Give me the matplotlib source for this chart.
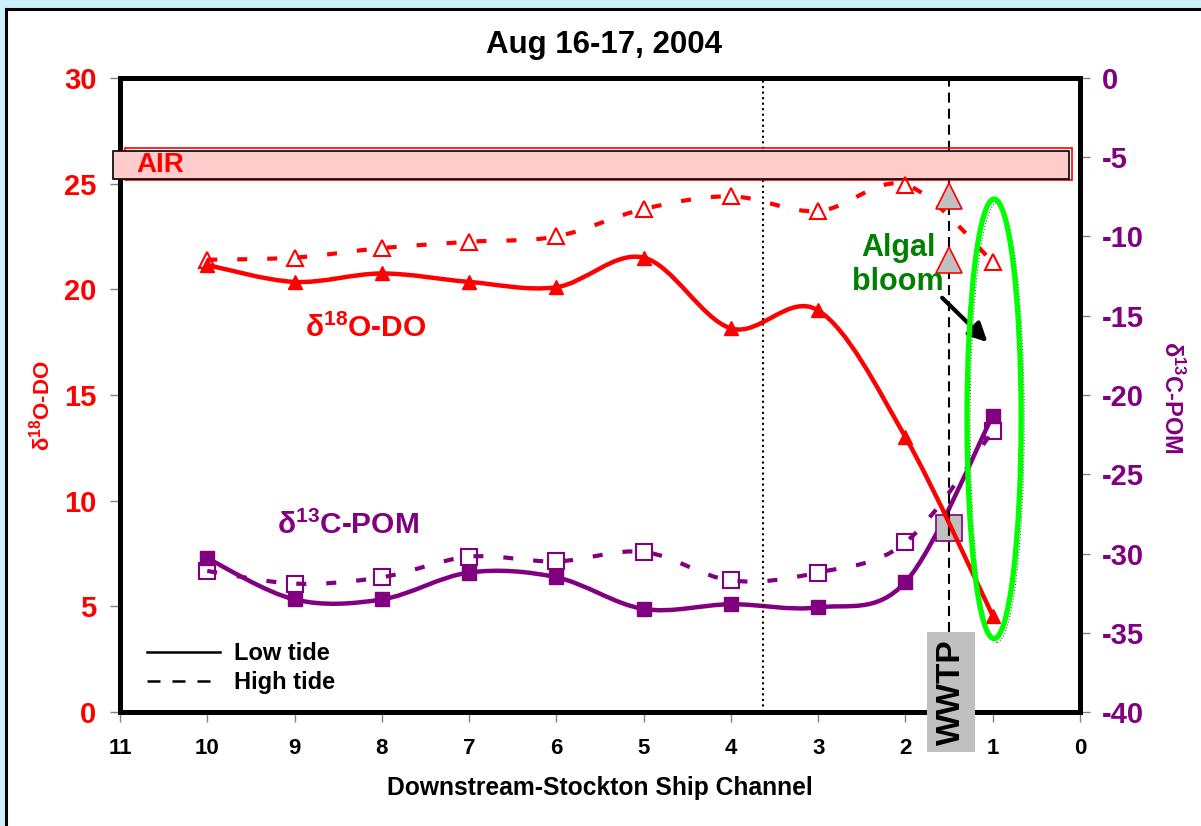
import numpy as np
import matplotlib
matplotlib.use('Agg')
import matplotlib.pyplot as plt
from matplotlib.path import Path
from matplotlib.patches import PathPatch, Rectangle, Ellipse
from matplotlib.lines import Line2D

plt.rcParams['font.family'] = ['Liberation Sans', 'DejaVu Sans']
plt.rcParams['font.weight'] = 'bold'
plt.rcParams['mathtext.fontset'] = 'custom'
plt.rcParams['mathtext.rm'] = 'Liberation Sans:bold'
plt.rcParams['mathtext.default'] = 'rm'
plt.rcParams['axes.unicode_minus'] = False

# stations along the channel, numbered from downstream
sites = [10, 9, 8, 7, 6, 5, 4, 3, 2, 1]
d18o_low = [21.15, 20.35, 20.75, 20.35, 20.1, 21.5, 18.15, 19.0, 13.0, 4.55]
d18o_high = [21.4, 21.5, 21.95, 22.25, 22.5, 23.8, 24.4, 23.7, 24.95, 21.3]
d13c_low = [-30.3, -32.9, -32.9, -31.2, -31.5, -33.5, -33.2, -33.4, -31.8, -21.3]
d13c_high = [-31.1, -31.9, -31.5, -30.2, -30.5, -29.9, -31.7, -31.2, -29.3, -22.3]

# treatment plant outfall
wwtp_site = 1.5
wwtp_d18o = [21.4, 24.4]
wwtp_d13c = [-28.4]

air_band = (25.22, 26.55)   # atmospheric O2
divider_site = 3.63

RED = '#FF0000'
PURPLE = '#800080'


def smooth_line(axis, xs, ys, **kw):
    # bezier spline through every point, like the spreadsheet "smoothed line"
    pts = np.column_stack([xs, ys]).astype(float)
    n = len(pts)
    verts = [pts[0]]
    codes = [Path.MOVETO]
    for i in range(n - 1):
        p0 = pts[max(i - 1, 0)]
        p1 = pts[i]
        p2 = pts[i + 1]
        p3 = pts[min(i + 2, n - 1)]
        verts += [p1 + (p2 - p0) / 6, p2 - (p3 - p1) / 6, p2]
        codes += [Path.CURVE4] * 3
    axis.add_patch(PathPatch(Path(verts, codes), fill=False, capstyle='butt', **kw))


fig = plt.figure(figsize=(12.01, 8.26), dpi=100, facecolor='#CCF0F8')
fig.add_artist(Rectangle((0.005, -0.1), 1.2, 1.0891, transform=fig.transFigure,
                         facecolor='white', edgecolor='black', lw=2.2, zorder=0))

ax = fig.add_axes([0.0999, 0.138, 0.7994, 0.7676])
ax2 = ax.twinx()
ax.set_zorder(ax2.get_zorder() + 1)
ax.patch.set_visible(False)

ax.set_xlim(11, 0)
ax.set_ylim(0, 30)
ax2.set_ylim(-40, 0)
ax.set_xticks(range(0, 12))
ax.set_yticks(range(0, 31, 5))
ax2.set_yticks(range(-40, 1, 5))

ax.tick_params(axis='x', colors='#808080', labelcolor='black', labelsize=16,
               length=7, width=1, pad=12)
ax.tick_params(axis='y', colors='#808080', labelcolor=RED, labelsize=21,
               length=7, width=1, pad=10)
ax2.tick_params(axis='y', colors='#808080', labelcolor=PURPLE, labelsize=21,
                length=7, width=1, pad=9)
for sp in ax.spines.values():
    sp.set_linewidth(3.5)
for sp in ax2.spines.values():
    sp.set_linewidth(3.5)

# d13C of particulate organic matter (right axis)
smooth_line(ax2, sites, d13c_high, edgecolor=PURPLE, lw=3, linestyle=(0, (2.4, 4.8)), zorder=3)
smooth_line(ax2, sites, d13c_low, edgecolor=PURPLE, lw=3.2, zorder=3)
ax2.plot(sites, d13c_high, ls='none', marker='s', ms=11, mfc='none', mec=PURPLE, mew=1.5, zorder=4)
ax2.plot(sites, d13c_low, ls='none', marker='s', ms=9.5, color=PURPLE, zorder=4)
ax2.plot([wwtp_site] * len(wwtp_d13c), wwtp_d13c, ls='none', marker='s', ms=19,
         mfc='#C0C0C0', mec=PURPLE, mew=1.2, zorder=4)

# d18O of dissolved oxygen (left axis)
smooth_line(ax, sites, d18o_high, edgecolor=RED, lw=3, linestyle=(0, (2.4, 4.8)), zorder=4)
smooth_line(ax, sites, d18o_low, edgecolor=RED, lw=3.2, zorder=4)
ax.plot(sites, d18o_high, ls='none', marker='^', ms=11, mfc='none', mec=RED, mew=1.5, zorder=5)
ax.plot(sites, d18o_low, ls='none', marker='^', ms=9.5, color=RED, zorder=5)
ax.plot([wwtp_site] * len(wwtp_d18o), wwtp_d18o, ls='none', marker='^', ms=19,
        mfc='#C0C0C0', mec=RED, mew=1.2, zorder=5)

# atmospheric band
ax.add_patch(Rectangle((0.092, 25.18), 10.848, 1.51, fill=False, edgecolor=RED,
                       lw=1.2, clip_on=False, zorder=3))
ax.add_patch(Rectangle((0.126, air_band[0]), 11.077 - 0.126, air_band[1] - air_band[0],
                       facecolor='#FFCCCC', edgecolor='black', lw=1.2, clip_on=False, zorder=3))
ax.text(10.81, 25.89, 'AIR', color=RED, fontsize=20, ha='left', va='center', zorder=4)

# reference lines
ax.plot([divider_site, divider_site], [0, 30], color='black', ls=':', lw=1.5, zorder=2)
ax.plot([wwtp_site, wwtp_site], [3.79, 30], color='black', ls=(0, (4.8, 2.9)), lw=1.5, zorder=2)
ax.add_patch(Rectangle((1.203, -1.89), 0.55, 5.68, facecolor='#C0C0C0', edgecolor='none',
                       clip_on=False, zorder=6))
ax.text(1.478, 0.95, 'WWTP', rotation=90, fontsize=24, ha='center', va='center',
        clip_on=False, zorder=7)

# algal bloom callout
ax.add_patch(Ellipse((0.95, 13.7), 0.62, 20.8, fill=False, edgecolor='0.35', ls=':', lw=0.8, zorder=9))
ax.add_patch(Ellipse((0.985, 13.87), 0.62, 20.8, fill=False, edgecolor='#00FF00', lw=3.8, zorder=10))
ax.text(2.085, 21.15, 'Algal\nbloom', color='#008000', fontsize=22, ha='center', va='center',
        linespacing=1.15, zorder=8)
ax.annotate('', xy=(1.06, 17.5), xytext=(1.58, 19.6),
            arrowprops=dict(arrowstyle='-|>', color='black', lw=3, mutation_scale=28,
                            shrinkA=0, shrinkB=0), zorder=8)

# series labels
ax.text(8.19, 18.17, r'$\delta^{18}$O-DO', color=RED, fontsize=21.5, ha='center', va='center')
ax.text(8.385, 8.85, r'$\delta^{13}$C-POM', color=PURPLE, fontsize=21.5, ha='center', va='center')

# axis labels
ax.text(-0.082, 0.484, r'$\delta^{18}$O-DO', transform=ax.transAxes, rotation=90,
        color=RED, fontsize=16, ha='center', va='center')
ax.text(1.095, 0.497, r'$\delta^{13}$C-POM', transform=ax.transAxes, rotation=270,
        color=PURPLE, fontsize=17, ha='center', va='center')
fig.text(600 / 1201, 1 - 788 / 826, 'Downstream-Stockton Ship Channel', fontsize=17.7,
         ha='center', va='center')
fig.text(604 / 1201, 1 - 45 / 826, 'Aug 16-17, 2004', fontsize=22.5, ha='center', va='center')

handles = [Line2D([], [], color='black', lw=1.8),
           Line2D([], [], color='black', lw=1.8, ls=(0, (5.2, 4.8)))]
fig.legend(handles, ['Low tide', 'High tide'], loc='upper left',
           bbox_to_anchor=(147 / 1201, 1 - 642 / 826), frameon=False, fontsize=17,
           handlelength=3.1, handletextpad=0.6, labelspacing=0.25, borderpad=0,
           borderaxespad=0)

fig.savefig('out.png', dpi=100, facecolor=fig.get_facecolor())
